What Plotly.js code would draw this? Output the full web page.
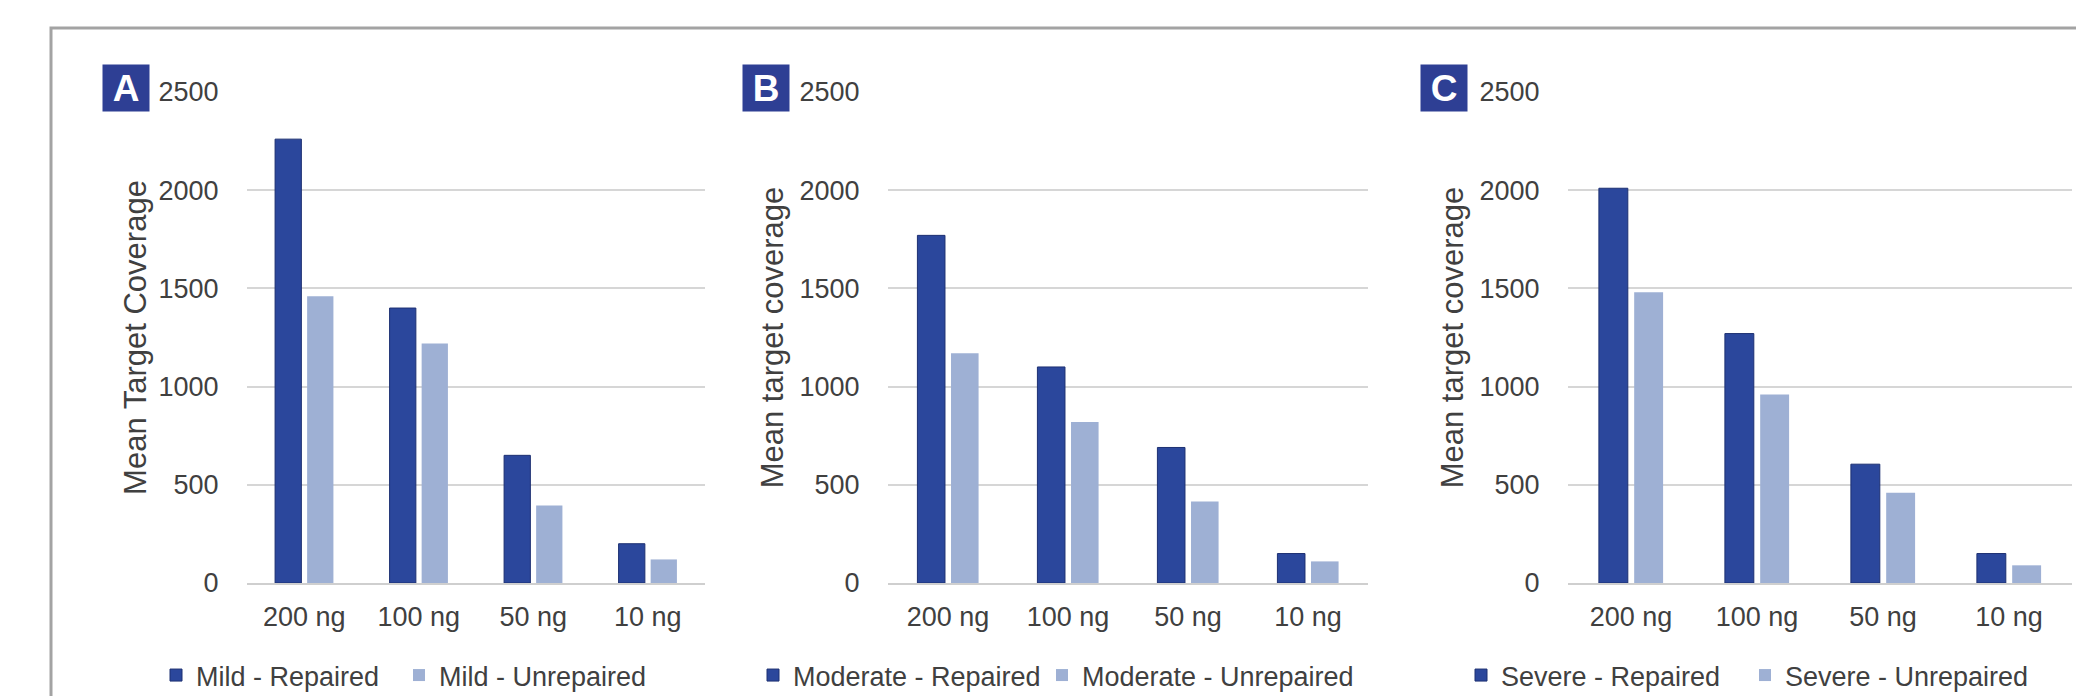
<!DOCTYPE html>
<html>
<head>
<meta charset="utf-8">
<script src="https://cdn.plot.ly/plotly-3.0.1.min.js"></script>
<style>
  html, body { margin: 0; padding: 0; background: #ffffff; }
  #chart { width: 2076px; height: 696px; }
</style>
</head>
<body>
<div id="chart"></div>
<script>
// DNA input amounts (x categories)
const inputAmounts = ['200 ng', '100 ng', '50 ng', '10 ng'];

// Mean target coverage per damage level
const mildRepaired       = [2260, 1400, 650, 200];
const mildUnrepaired     = [1460, 1220, 395, 120];
const moderateRepaired   = [1770, 1100, 690, 150];
const moderateUnrepaired = [1170, 820, 415, 110];
const severeRepaired     = [2010, 1270, 605, 150];
const severeUnrepaired   = [1480, 960, 460, 90];

const panelLetters = ['A', 'B', 'C'];
const yTitles = ['Mean Target Coverage', 'Mean target coverage', 'Mean target coverage'];
const yTicks = [0, 500, 1000, 1500, 2000, 2500];

const W = 2076, H = 696;
const DARK = '#2b479c';
const LIGHT = '#9eb0d4';
const TEXT = '#404040';
const FONT = 'Liberation Sans, Arial, sans-serif';

// pixel helpers for layout placement
const px = v => v / W;
const py = v => 1 - v / H;

const panels = [
  { x0: 247, x1: 705, rep: mildRepaired, unrep: mildUnrepaired,
    names: ['Mild - Repaired', 'Mild - Unrepaired'], box: 126, leg: [156, 399], standoff: 2 },
  { x0: 888, x1: 1368, rep: moderateRepaired, unrep: moderateUnrepaired,
    names: ['Moderate - Repaired', 'Moderate - Unrepaired'], box: 766, leg: [753, 1042], standoff: 6 },
  { x0: 1568, x1: 2072, rep: severeRepaired, unrep: severeUnrepaired,
    names: ['Severe - Repaired', 'Severe - Unrepaired'], box: 1444, leg: [1461, 1745], standoff: 6 }
];

const yTop = 92, yZero = 583;

const traces = [];
const layout = {
  width: W, height: H,
  margin: { l: 0, r: 0, t: 0, b: 0, autoexpand: false },
  paper_bgcolor: '#ffffff',
  plot_bgcolor: '#ffffff',
  font: { family: FONT, color: TEXT, size: 27 },
  barmode: 'group',
  bargap: 0.44,
  bargroupgap: 0.18,
  showlegend: true,
  annotations: [],
  shapes: [
    // outer frame around the figure
    { type: 'rect', xref: 'paper', yref: 'paper',
      x0: px(51), x1: px(2090), y0: py(28), y1: py(720),
      line: { color: '#a3a3a3', width: 3 }, fillcolor: 'rgba(0,0,0,0)', layer: 'below' }
  ]
};

function legendBox(xLeft) {
  return {
    orientation: 'h',
    x: px(xLeft), xanchor: 'left',
    y: py(651), yanchor: 'top',
    font: { family: FONT, size: 27, color: TEXT },
    bgcolor: 'rgba(0,0,0,0)',
    itemwidth: 30,
    itemclick: false, itemdoubleclick: false
  };
}

panels.forEach((p, i) => {
  const n = i + 1;
  const xa = n === 1 ? 'x' : 'x' + n;
  const ya = n === 1 ? 'y' : 'y' + n;
  // one legend box per series so each entry sits under its own panel
  const legA = i === 0 ? 'legend' : 'legend' + (2 * i + 1);
  const legB = 'legend' + (2 * i + 2);

  traces.push({
    type: 'bar', x: inputAmounts, y: p.rep, name: p.names[0],
    xaxis: xa, yaxis: ya, legend: legA,
    marker: { color: DARK, line: { color: '#1d3072', width: 1 } },
    hoverinfo: 'x+y+name'
  });
  traces.push({
    type: 'bar', x: inputAmounts, y: p.unrep, name: p.names[1],
    xaxis: xa, yaxis: ya, legend: legB,
    marker: { color: LIGHT, line: { width: 0 } },
    hoverinfo: 'x+y+name'
  });

  const xKey = n === 1 ? 'xaxis' : 'xaxis' + n;
  const yKey = n === 1 ? 'yaxis' : 'yaxis' + n;

  layout[xKey] = {
    domain: [px(p.x0), px(p.x1)],
    anchor: ya,
    type: 'category',
    showgrid: false,
    showline: true, linecolor: '#cfcfcf', linewidth: 2,
    ticks: 'outside', ticklen: 9, tickcolor: 'rgba(0,0,0,0)',
    tickfont: { family: FONT, size: 27, color: TEXT },
    fixedrange: true
  };
  layout[yKey] = {
    domain: [py(yZero), py(yTop)],
    anchor: xa,
    range: [0, 2500],
    tickvals: yTicks,
    showgrid: true, gridcolor: '#d6d6d6', gridwidth: 2,
    zeroline: false, showline: false,
    ticks: 'outside', ticklen: 22, tickcolor: 'rgba(0,0,0,0)',
    tickfont: { family: FONT, size: 27, color: TEXT },
    title: { text: yTitles[i], font: { family: FONT, size: 31, color: TEXT }, standoff: p.standoff },
    fixedrange: true
  };

  layout[legA] = legendBox(p.leg[0]);
  layout[legB] = legendBox(p.leg[1]);

  // panel letter badge
  layout.annotations.push({
    xref: 'paper', yref: 'paper',
    x: px(p.box), y: py(88), xanchor: 'center', yanchor: 'middle',
    text: '<b>' + panelLetters[i] + '</b>',
    showarrow: false,
    width: 46, height: 46,
    bgcolor: '#2e3f94',
    borderpad: 0,
    font: { family: FONT, size: 37, color: '#ffffff' }
  });
});

Plotly.newPlot('chart', traces, layout, { displayModeBar: false });
</script>
</body>
</html>
